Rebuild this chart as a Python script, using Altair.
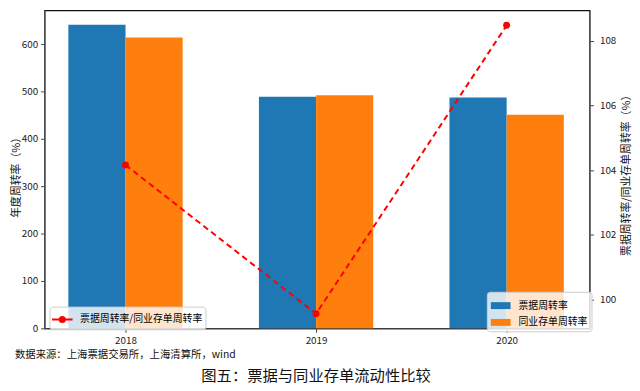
import altair as alt
import pandas as pd

years = [2018, 2019, 2020]
bill_turnover = [641, 489, 487]
ncd_turnover = [614, 492, 451]
ratio = [104.16, 99.57, 108.47]
series_names = ["票据周转率", "同业存单周转率"]
line_name = "票据周转率/同业存单周转率"
source_text = "数据来源：上海票据交易所，上海清算所，wind"
title_text = "图五：票据与同业存单流动性比较"

FONT = "Noto Sans CJK SC"

bars = pd.DataFrame({
    "year": years * 2,
    "series": [series_names[0]] * 3 + [series_names[1]] * 3,
    "idx": [0] * 3 + [1] * 3,
    "value": bill_turnover + ncd_turnover,
})
line_df = pd.DataFrame({"year": years, "ratio": ratio, "s": [line_name] * 3})

xscale = alt.Scale(domain=[2017.575, 2020.435], nice=False, zero=False)

axis_common = dict(grid=False, labelFontSize=10, labelColor="#222", tickColor="#444",
                   domainColor="#555", tickSize=4, titleFontWeight="normal", titleColor="#111")

bar_layer = alt.Chart(bars).transform_calculate(
    x0="datum.year - 0.3 + 0.3 * datum.idx",
    x1="datum.year + 0.3 * datum.idx",
).mark_rect().encode(
    x=alt.X("x0:Q", scale=xscale,
            axis=alt.Axis(values=years, format="d", title=None, labelPadding=3, **axis_common)),
    x2="x1:Q",
    y=alt.Y("value:Q", scale=alt.Scale(domain=[0, 671], nice=False),
            axis=alt.Axis(values=[0, 100, 200, 300, 400, 500, 600], title="年度周转率（%）",
                          titleFontSize=11, titleX=-28, titleY=166, titleAngle=270,
                          titleAlign="center", titleBaseline="middle", labelPadding=3,
                          **axis_common)),
    color=alt.Color("series:N", scale=alt.Scale(domain=series_names, range=["#1f77b4", "#ff7f0e"]),
                    legend=alt.Legend(title=None, orient="none", legendX=448, legendY=285,
                                      symbolType="M-1,-0.35L1,-0.35L1,0.35L-1,0.35Z",
                                      symbolSize=400, labelFontSize=10, labelFont=FONT,
                                      labelOffset=8,
                                      fillColor="rgba(255,255,255,0.8)", strokeColor="#ccc",
                                      padding=4, cornerRadius=3, rowPadding=2,
                                      symbolStrokeWidth=0)),
    order=alt.Order("idx:Q"),
)

line_path = "M-1.2,0L1.2,0M-0.3,0A0.3,0.3 0 1,1 0.3,0A0.3,0.3 0 1,1 -0.3,0Z"

line_layer = alt.Chart(line_df).mark_line(
    strokeDash=[6, 4], strokeWidth=2, point=alt.OverlayMarkDef(filled=True, size=50, color="#ff0000")
).encode(
    x=alt.X("year:Q", scale=xscale),
    y=alt.Y("ratio:Q", scale=alt.Scale(domain=[99.12, 108.93], nice=False, zero=False),
            axis=alt.Axis(orient="right", values=[100, 102, 104, 106, 108],
                          title="票据周转率/同业存单周转率（%）", titleAngle=270,
                          titleFontSize=11, titleX=37, titleY=164,
                          titleAlign="center", titleBaseline="middle", labelPadding=6,
                          **axis_common)),
    color=alt.Color("s:N", scale=alt.Scale(domain=[line_name], range=["#ff0000"]),
                    legend=alt.Legend(title=None, orient="none", legendX=5, legendY=300,
                                      symbolType=line_path, symbolSize=300,
                                      symbolFillColor="#ff0000", symbolStrokeColor="#ff0000",
                                      symbolStrokeWidth=2, labelOffset=8,
                                      labelFontSize=10, labelFont=FONT,
                                      fillColor="rgba(255,255,255,0.8)", strokeColor="#ccc",
                                      padding=3, cornerRadius=3)),
)

src = alt.Chart(pd.DataFrame({"t": [source_text]})).mark_text(
    align="left", baseline="middle", fontSize=10.5, font=FONT, color="#111"
).encode(x=alt.value(-30), y=alt.value(349), text="t:N")

ttl = alt.Chart(pd.DataFrame({"t": [title_text]})).mark_text(
    align="center", baseline="middle", fontSize=15.5, font=FONT, color="#111"
).encode(x=alt.value(275), y=alt.value(370), text="t:N")

chart = alt.layer(bar_layer, line_layer, src, ttl).resolve_scale(
    y="independent", color="independent"
).resolve_legend(color="independent").properties(
    width=552, height=322,
    autosize=alt.AutoSizeParams(type="none"),
    padding={"left": 37, "top": 0, "right": 43, "bottom": 60},
).configure(font=FONT).configure_view(stroke="#111", strokeWidth=1.2).configure_axis(
    labelFont=FONT, titleFont=FONT
)

chart.save("out.html", embed_options={"renderer": "svg", "actions": False})
